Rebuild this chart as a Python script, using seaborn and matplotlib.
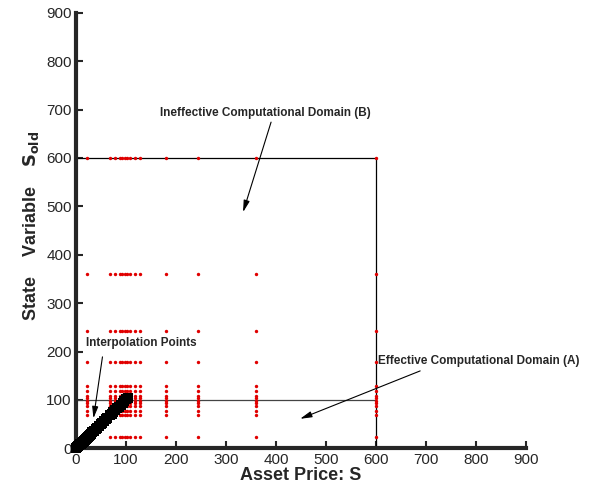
import numpy as np
import pandas as pd
import matplotlib
matplotlib.use("Agg")
import matplotlib.pyplot as plt
import seaborn as sns

# grid nodes of the computational domain (same nodes on both axes)
grid_nodes = [23, 68, 78, 88, 93, 98, 103, 108, 118, 128, 179, 243, 360, 600]

# interpolation points along the diagonal S = S_old
interp_s = [0, 2, 4, 6, 8, 10, 12, 14, 16, 18, 20, 22, 24, 26, 28, 30, 33, 36, 40, 43,
            46, 50, 53, 56, 60, 63, 68, 72, 75, 79, 83, 86, 90, 94, 97, 101, 104]

# domain boundaries
outer_box_x = [0, 600, 600]
outer_box_y = [600, 600, 0]
inner_line_x = [0, 600]
inner_line_y = [100, 100]

ticks = [0, 100, 200, 300, 400, 500, 600, 700, 800, 900]

# build the grid table
gx, gy = np.meshgrid(grid_nodes, grid_nodes)
grid_df = pd.DataFrame({"S": gx.ravel(), "S_old": gy.ravel()})
interp_df = pd.DataFrame({"S": interp_s, "S_old": interp_s})

sns.set_style("ticks")
plt.rcParams["font.family"] = ["Liberation Sans", "DejaVu Sans"]

fig = plt.figure(figsize=(5.98, 4.90), dpi=100)
ax = fig.add_axes([0.127, 0.085, 0.753, 0.889])

# boundaries
ax.plot(outer_box_x, outer_box_y, color="black", lw=0.9, zorder=2)
ax.plot(inner_line_x, inner_line_y, color="#444444", lw=0.9, zorder=2)

# grid nodes
sns.scatterplot(data=grid_df, x="S", y="S_old", ax=ax, color="#e00000",
                marker="o", s=6, linewidth=0, zorder=3, clip_on=False)

# interpolation points
sns.scatterplot(data=interp_df, x="S", y="S_old", ax=ax, color="black",
                marker="s", s=42, linewidth=0, zorder=4, clip_on=False)

ax.set_xlim(0, 900)
ax.set_ylim(0, 900)
ax.set_xticks(ticks)
ax.set_yticks(ticks)
ax.tick_params(direction="in", length=5, width=1.5, labelsize=11, pad=3)

for side in ["top", "right"]:
    ax.spines[side].set_visible(False)
for side in ["left", "bottom"]:
    ax.spines[side].set_linewidth(3)

ax.set_xlabel("Asset Price: S", fontsize=13, fontweight="bold", labelpad=0)
ax.set_ylabel(r"State    Variable    $\mathbf{S_{old}}$", fontsize=13, fontweight="bold")
ax.yaxis.set_label_coords(-0.078, 0.51)

arrow_kw = dict(arrowstyle="-|>,head_length=0.7,head_width=0.18", color="black", lw=0.8,
                shrinkA=0, shrinkB=0)

ax.text(168, 693, "Ineffective Computational Domain (B)", fontsize=8.5,
        fontweight="bold", va="center", ha="left")
ax.annotate("", xy=(334, 488), xytext=(390, 674), arrowprops=arrow_kw)

ax.text(604, 180, "Effective Computational Domain (A)", fontsize=8.5,
        fontweight="bold", va="center", ha="left")
ax.annotate("", xy=(448, 61), xytext=(688, 160), arrowprops=arrow_kw,
            annotation_clip=False)

ax.text(20, 218, "Interpolation Points", fontsize=8.5, fontweight="bold",
        va="center", ha="left")
ax.annotate("", xy=(35, 62), xytext=(53, 189), arrowprops=arrow_kw)

fig.savefig("out.png", dpi=100)
